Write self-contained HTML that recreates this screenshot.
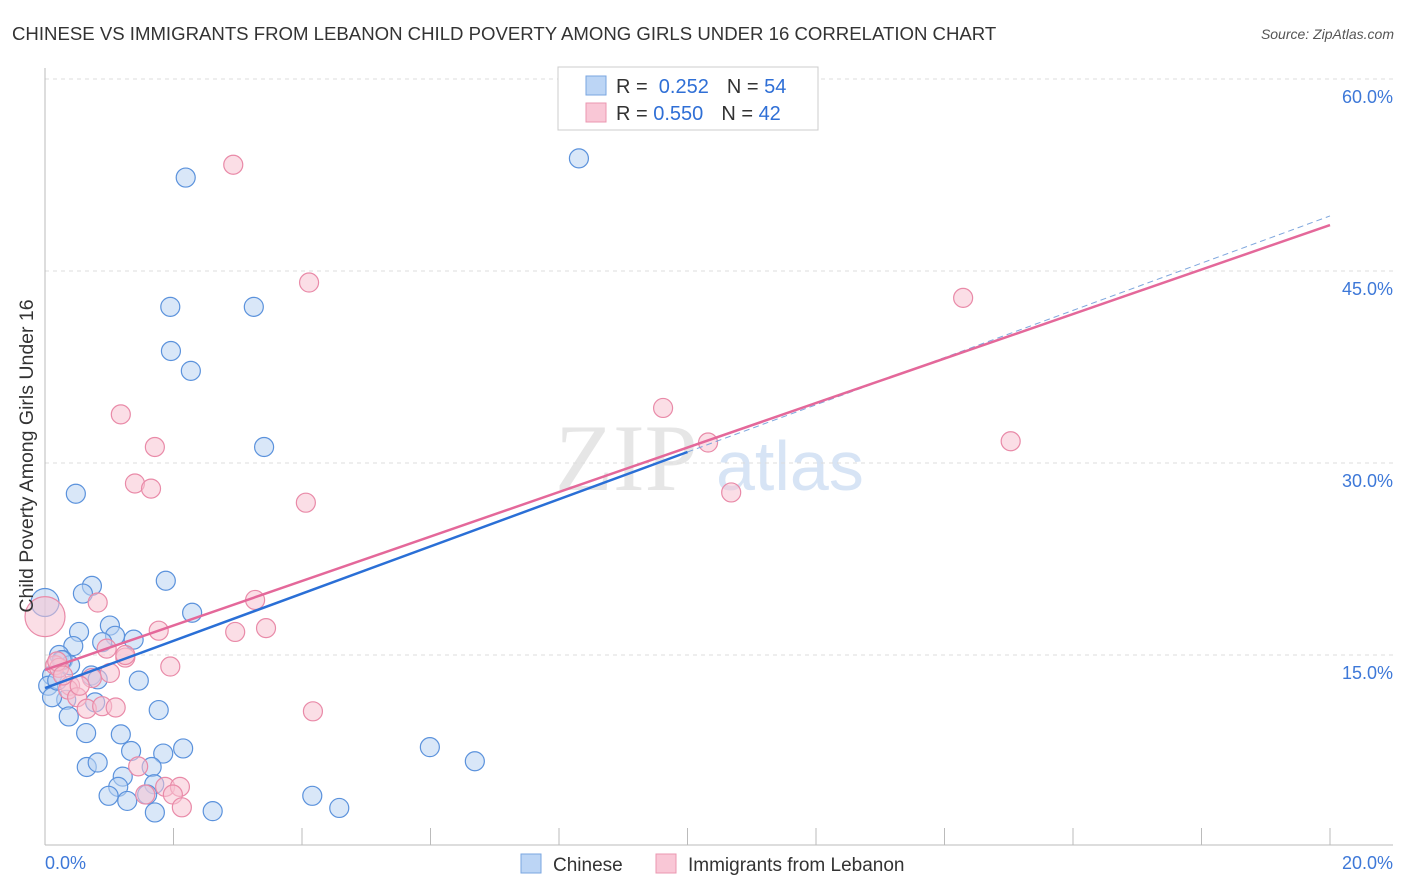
<!DOCTYPE html>
<html><head><meta charset="utf-8"><style>
body{margin:0;background:#fff;font-family:"Liberation Sans",sans-serif}
svg{display:block}
</style></head><body>
<svg id="c" width="1406" height="892">
<text x="12" y="40" font-size="18.6" fill="#333">CHINESE VS IMMIGRANTS FROM LEBANON CHILD POVERTY AMONG GIRLS UNDER 16 CORRELATION CHART</text>
<text x="1394" y="39" font-size="14" fill="#555" font-style="italic" text-anchor="end">Source: ZipAtlas.com</text>
<text x="555" y="490" font-size="95" fill="#e6e6e6" font-family="Liberation Serif">ZIP</text>
<text x="716" y="490" font-size="70" fill="#d7e4f5">atlas</text>
<g id="grid"></g><g id="axes"></g><g id="pts"></g><g id="lines"></g>
<text transform="translate(33,456) rotate(-90)" font-size="19.5" fill="#333" text-anchor="middle">Child Poverty Among Girls Under 16</text>
<g>
<rect x="558" y="67" width="260" height="63" fill="#fff" stroke="#ccc"/>
<rect x="586" y="76" width="20" height="19" fill="#bcd5f5" stroke="#7aa6e0"/>
<rect x="586" y="103" width="20" height="19" fill="#f9c7d6" stroke="#eb97b0"/>
<text x="616" y="93" font-size="20" fill="#333">R = <tspan fill="#2f6fd6">&#160;0.252</tspan><tspan dx="18">N = </tspan><tspan fill="#2f6fd6">54</tspan></text>
<text x="616" y="120" font-size="20" fill="#333">R = <tspan fill="#2f6fd6">0.550</tspan><tspan dx="18">N = </tspan><tspan fill="#2f6fd6">42</tspan></text>
</g>
<g>
<rect x="521" y="854" width="20" height="19" fill="#bcd5f5" stroke="#7aa6e0"/>
<text x="553" y="871" font-size="19" fill="#333">Chinese</text>
<rect x="656" y="854" width="20" height="19" fill="#f9c7d6" stroke="#eb97b0"/>
<text x="688" y="871" font-size="19" fill="#333">Immigrants from Lebanon</text>
</g>
</svg>
<script>
const yTicks=[15,30,45,60];
const xTickLabels=["0.0%","20.0%"];
const chineseX=[8.31,2.19,1.95,3.25,1.96,2.27,3.41,0.48,1.88,0.73,0.59,2.29,1.01,0.53,1.09,1.38,0.89,0.44,0.22,0.28,0.39,0.11,0.72,0.82,1.46,0.05,0.78,0.33,0.11,1.77,0.37,0.64,1.18,1.34,1.84,2.15,5.99,6.69,0.65,0.82,1.66,1.21,1.14,1.70,0.99,1.28,1.59,4.16,4.58,1.71,2.61,0.0,0.19,0.26];
const chineseY=[53.8,52.3,42.2,42.2,38.75,37.2,31.25,27.6,20.8,20.4,19.8,18.3,17.3,16.8,16.5,16.2,16.0,15.7,15.0,14.6,14.2,13.4,13.4,13.1,13.0,12.6,11.3,11.5,11.7,10.7,10.2,8.9,8.8,7.5,7.3,7.7,7.8,6.7,6.25,6.6,6.25,5.5,4.7,4.9,4.0,3.6,4.1,4.0,3.05,2.7,2.8,19.1,13.0,14.6];
const lebanonX=[2.93,4.11,14.29,1.18,1.71,9.62,10.32,15.03,1.40,1.65,4.06,10.68,0.82,0.0,3.27,1.77,2.96,3.44,0.96,1.25,1.95,1.01,0.16,0.22,0.73,0.39,0.36,0.50,0.65,0.89,1.10,4.17,0.19,1.45,1.56,1.87,2.10,1.99,2.13,1.25,0.28,0.54];
const lebanonY=[53.3,44.1,42.9,33.8,31.25,34.3,31.6,31.7,28.4,28.0,26.9,27.7,19.1,18.0,19.3,16.9,16.8,17.1,15.5,14.8,14.1,13.6,14.2,14.0,13.2,12.6,12.3,11.7,10.8,11.0,10.9,10.6,14.5,6.3,4.1,4.7,4.7,4.1,3.1,15.0,13.4,12.6];
const bigIdx=[51];
const bigPinkIdx=[13];
const blueFit=[12.42,1.844];
const pinkFit=[13.83,1.738];
const X0=45,X1=1330,YB=847,YS=12.8;
const sx=v=>X0+(X1-X0)*v/20, sy=v=>YB-v*YS;
const NS="http://www.w3.org/2000/svg";
function mk(t,a,p){const e=document.createElementNS(NS,t);for(const k in a)e.setAttribute(k,a[k]);p.appendChild(e);return e;}
const grid=document.getElementById('grid'),axes=document.getElementById('axes'),pts=document.getElementById('pts'),lines=document.getElementById('lines');
yTicks.forEach(v=>{
 const l=mk('line',{x1:45,x2:1393,y1:sy(v),y2:sy(v),stroke:'#ddd','stroke-dasharray':'4,4'},grid);
 
 
 const t=mk('text',{x:1393,y:sy(v)+24,'font-size':18,fill:'#3d78d8','text-anchor':'end'},grid);
 t.textContent=v.toFixed(1)+'%';
 
 
});
mk('line',{x1:45,x2:1393,y1:845,y2:845,stroke:'#bbb'},axes);
mk('line',{x1:45,x2:45,y1:68,y2:845,stroke:'#bbb'},axes);
for(let i=0;i<=10;i++){const l=mk('line',{x1:sx(i*2),x2:sx(i*2),y1:828,y2:845,stroke:'#bbb'},axes);
 
 }
[[0,45,'start'],[20,1393,'end']].forEach((d,i)=>{const t=mk('text',{x:d[1],y:869,'font-size':18,fill:'#3d78d8','text-anchor':d[2]},axes);t.textContent=xTickLabels[i];
 
 });
function draw(xs,ys,fill,stroke,big,nm){xs.forEach((x,i)=>{const c=mk('circle',{cx:sx(x),cy:sy(ys[i]),r:big.includes(i)?(nm==='lebanon-point'?20:14):9.5,fill:fill,'fill-opacity':0.55,stroke:stroke,'stroke-width':1.2},pts);
 
 });}
draw(chineseX,chineseY,'#b9d3f3','#5b92dc',bigIdx,'chinese-point');
draw(lebanonX,lebanonY,'#f7c2d2','#e98aa8',bigPinkIdx,'lebanon-point');
let l=mk('line',{x1:sx(10),y1:sy(blueFit[0]+blueFit[1]*10),x2:sx(20),y2:sy(blueFit[0]+blueFit[1]*20),stroke:'#7ea6dd','stroke-width':1,'stroke-dasharray':'6,4'},lines);


l=mk('line',{x1:sx(0),y1:sy(blueFit[0]),x2:sx(10),y2:sy(blueFit[0]+blueFit[1]*10),stroke:'#2a6fd6','stroke-width':2.5},lines);


l=mk('line',{x1:sx(0),y1:sy(pinkFit[0]),x2:sx(20),y2:sy(pinkFit[0]+pinkFit[1]*20),stroke:'#e4689a','stroke-width':2.5},lines);


</script>
</body></html>
